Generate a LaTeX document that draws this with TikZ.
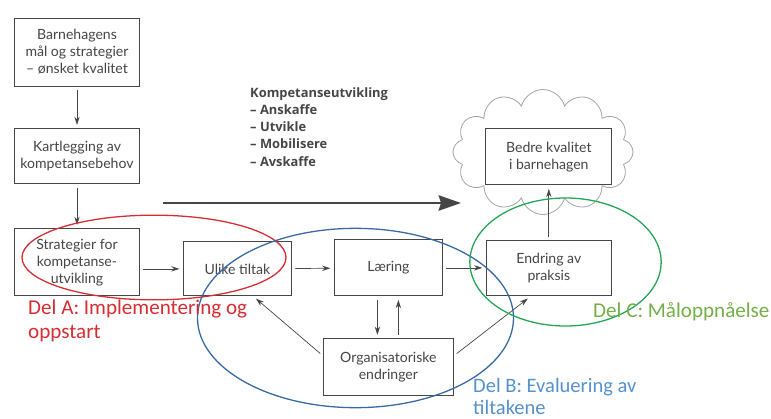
\documentclass[tikz,border=0pt]{standalone}
\usepackage{fontspec}
\setmainfont{Lato}
\newfontfamily\delfont{Carlito}
\newfontfamily\listfont{Open Sans}
\usepackage{tikz}
\usetikzlibrary{shapes.symbols, arrows, arrows.meta, positioning, calc}
\definecolor{ink}{RGB}{70,70,70}
\definecolor{puff}{RGB}{165,165,165}
\definecolor{delared}{RGB}{215,45,50}
\definecolor{delbring}{RGB}{55,105,165}
\definecolor{delbtext}{RGB}{85,145,205}
\definecolor{delcring}{RGB}{35,165,85}
\definecolor{delctext}{RGB}{115,175,70}

\begin{document}
\begin{tikzpicture}[
    x=0.03cm, y=-0.03cm,
    >={Stealth[length=7pt, width=4.5pt]},
    box/.style={rectangle, draw=ink, line width=0.8pt, align=center, fill=white, text=ink, font=\fontsize{12}{14.5}\selectfont, inner sep=2pt},
    arrow/.style={->, line width=0.6pt, draw=ink, shorten >=3pt, shorten <=3pt},
    bigarrow/.style={-{Stealth[length=19pt, width=13pt, inset=2pt]}, line width=2.2pt, draw=ink},
    ring/.style={line width=1.1pt},
    dellabel/.style={font=\delfont\fontsize{18}{20}\selectfont, align=left, anchor=base west, inner sep=0pt}
]
\useasboundingbox (0,0) rectangle (771,419);

% Left column
\node[box, minimum width=3.75cm, minimum height=2.04cm] (mal) at (77,52) {Barnehagens\\mål og strategier\\– ønsket kvalitet};
\node[box, minimum width=3.75cm, minimum height=1.65cm, below=1.26cm of mal] (kart) {Kartlegging av\\kompetansebehov};
\node[box, minimum width=3.75cm, minimum height=2.01cm, below=1.32cm of kart] (strat) {Strategier for\\kompetanse-\\utvikling};
\draw[arrow] (mal) -- (kart);
\draw[arrow] (kart) -- (strat);

% Main row
\node[box, minimum width=3.24cm, minimum height=1.62cm, right=1.29cm of strat.south east, anchor=south west] (tiltak) {Ulike tiltak};
\node[box, minimum width=3.24cm, minimum height=1.68cm, right=1.26cm of tiltak.south east, anchor=south west] (laering) {Læring};
\node[box, minimum width=3.75cm, minimum height=1.65cm, right=1.29cm of laering.south east, anchor=south west] (praksis) {Endring av\\praksis};
\node[box, minimum width=3.9cm, minimum height=1.71cm, below=1.26cm of laering] (org) {Organisatoriske\\endringer};
\draw[arrow] (strat.east |- tiltak.west) -- (tiltak.west);
\draw[arrow] (tiltak) -- (laering);
\draw[arrow] (laering) -- (praksis.west |- laering.east);
\draw[arrow] ([xshift=-0.33cm]laering.south) -- ([xshift=-0.33cm]org.north);
\draw[arrow] ([xshift=0.3cm]org.north) -- ([xshift=0.3cm]laering.south);
\draw[arrow] (org.170) -- (tiltak.-60);
\draw[arrow] (org.10) -- (praksis.237);

% Goal in the cloud
\node[cloud, draw=puff, line width=0.7pt, cloud puffs=12, aspect=1.45, minimum width=5.4cm, minimum height=3.75cm] (sky) at (543,152) {};
\node[box, minimum width=3.78cm, minimum height=1.68cm, above=1.65cm of praksis] (bedre) {Bedre kvalitet\\i barnehagen};
\draw[arrow] (praksis) -- (bedre);

% Kompetanseutvikling
\node[anchor=base west, inner sep=0pt, align=left, text=ink, font=\listfont\bfseries\fontsize{11}{14.7}\selectfont] (kompetanse) at (250,166) {Kompetanseutvikling\\– Anskaffe\\– Utvikle\\– Mobilisere\\– Avskaffe};
\coordinate (kstart) at (163,203);
\coordinate (kend) at (461,203);
\draw[bigarrow] (kstart) -- (kend);

% Del A, B, C
\draw[ring, delared] (154,257.5) ellipse [x radius=3.96cm, y radius=1.27cm];
\draw[ring, delbring] (355.5,318) ellipse [x radius=4.74cm, y radius=2.69cm];
\draw[ring, delcring] (565.5,262) ellipse [x radius=2.87cm, y radius=1.92cm];
\node[dellabel, text=delared] (dela) at (28,338) {Del A: Implementering og\\oppstart};
\node[dellabel, text=delbtext, font=\delfont\fontsize{17.5}{18}\selectfont] (delb) at (473,414) {Del B: Evaluering av\\tiltakene};
\node[dellabel, text=delctext] (delc) at (593,317) {Del C: Måloppnåelse};

\end{tikzpicture}
\end{document}
